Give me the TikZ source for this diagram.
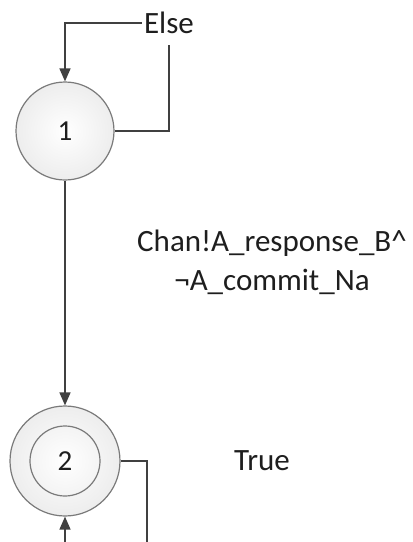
\documentclass[tikz,border=0pt]{standalone}
\usepackage{fontspec}
\setmainfont{Carlito}
\usetikzlibrary{arrows.meta}
\definecolor{linec}{HTML}{404040}
\definecolor{circc}{HTML}{7A7A7A}
\definecolor{textc}{HTML}{1E1E1E}
\tikzset{
  state/.style={circle, draw=circc, line width=1.2pt, shade, inner color=white, outer color=gray!14, minimum size=#1, inner sep=0pt, text=textc, font=\fontsize{29}{31}\selectfont},
  inner state/.style={circle, draw=circc, line width=1.2pt, fill=none, minimum size=70pt, inner sep=0pt, text=textc, font=\fontsize{29}{31}\selectfont},
  lbl/.style={text=textc, font=\fontsize{31}{34}\selectfont, inner sep=0pt},
  conn/.style={draw=linec, line width=1.5pt},
  arr/.style={conn, -{Triangle[length=13pt,width=11pt]}},
}
\begin{document}
\begin{tikzpicture}[x=1pt,y=-1pt]
\useasboundingbox (0,0) rectangle (413,542);
\node[state=98pt] (s1) at (65,131) {1};
\node[state=110pt] (s2) at (65,461) {};
\node[inner state] (s2i) at (65,461) {2};
\node[lbl, minimum height=44pt, inner xsep=2pt] (else) at (169,23) {Else};
\node[lbl] (true) at (262,461) {True};
\node[lbl] (g1) at (272,243) {Chan!A\_response\_B\textasciicircum};
\node[lbl] (g2) at (272,282) {¬A\_commit\_Na};
\coordinate (loopend) at (147,542);
\coordinate (loopstart) at (65,542);
\draw[conn] (s1.east) -| (else.south);
\draw[arr] (else.west) -| (s1.north);
\draw[arr] (s1.south) -- (s2.north);
\draw[conn] (s2.east) -| (loopend);
\draw[arr] (loopstart) -- (s2.south);
\end{tikzpicture}
\end{document}
